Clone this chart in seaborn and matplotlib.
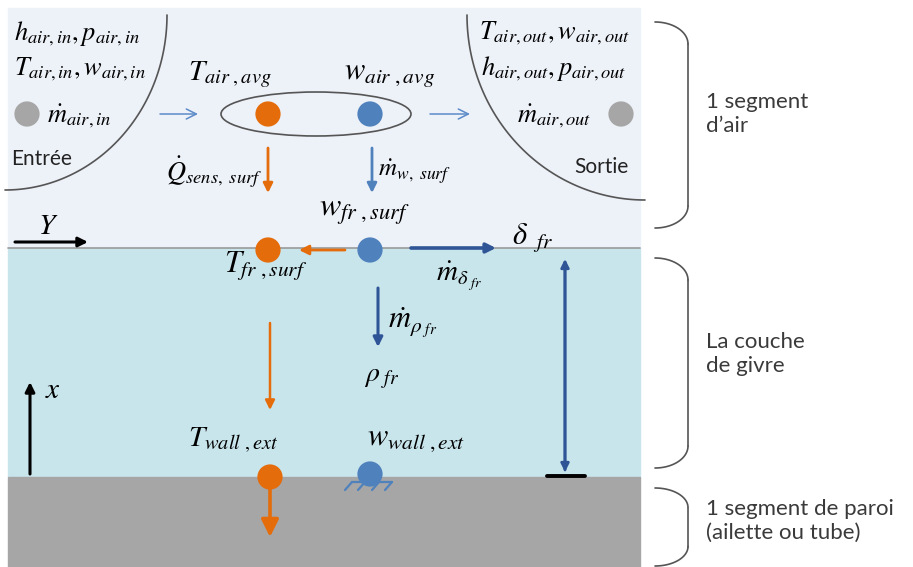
import numpy as np
import pandas as pd
import matplotlib
matplotlib.use("Agg")
import matplotlib.pyplot as plt
from matplotlib.patches import Ellipse
import seaborn as sns

# Schema: one air segment, frost layer and wall segment (pixel coordinates)

sns.set_theme(style="white")
plt.rcParams['font.family'] = ['Lato', 'DejaVu Sans']
plt.rcParams['mathtext.fontset'] = 'stix'

ORANGE = "#E46C0A"
BLUE = "#4F81BD"
DARK_BLUE = "#2F5597"
GREY_DOT = "#A6A6A6"

# node dots
dot_names = ["m_in", "T_avg", "w_avg", "m_out", "T_surf", "w_surf", "T_wall", "w_wall"]
dot_x = [27, 268, 370, 621, 268, 370, 270, 370]
dot_y = [114, 114, 114, 114, 250, 250, 477, 474]
dot_kind = ["grey", "orange", "blue", "grey", "orange", "blue", "orange", "blue"]

# math labels
label_text = [r"$h_{air,in}, p_{air,in}$", r"$T_{air,in}, w_{air,in}$", r"$\dot{m}_{air,in}$",
              r"$T_{air,out}, w_{air,out}$", r"$h_{air,out}, p_{air,out}$", r"$\dot{m}_{air,out}$",
              r"$T_{air\ ,avg}$", r"$w_{air\ ,avg}$",
              r"$\dot{Q}_{sens,\ surf}$", r"$\dot{m}_{w,\ surf}$",
              r"$w_{fr\ ,surf}$", r"$T_{fr\ ,surf}$", r"$\delta_{\ \ fr}$",
              r"$\dot{m}_{\delta_{\ fr}}$", r"$\dot{m}_{\rho_{\ fr}}$", r"$\rho_{\ fr}$",
              r"$T_{wall\ ,ext}$", r"$w_{wall\ ,ext}$", r"$Y$", r"$x$"]
label_x = [14, 14, 47, 479, 481, 517, 188, 344, 166, 378, 319, 224, 512, 436, 388, 364, 188, 367, 38, 45]
label_y = [34, 69, 116, 33, 69, 116, 75, 75, 172, 172, 212, 266, 238, 276, 323, 378, 440, 440, 226, 390]
label_size = [19, 19, 19, 19, 19, 19, 21, 22, 19, 18, 23, 22, 22, 21, 22, 20, 21, 22, 21, 21]

# right-hand captions
brace_top = [22, 258, 488]
brace_bottom = [228, 468, 566]
caption_text = ["1 segment\nd\u2019air", "La couche\nde givre", "1 segment de paroi\n(ailette ou tube)"]
caption_y = [114, 354, 521]

fig = plt.figure(figsize=(9.13, 5.67), dpi=100)
ax = fig.add_axes([0, 0, 1, 1])
ax.set_xlim(0, 913)
ax.set_ylim(567, 0)
ax.axis("off")

# three layers
ax.add_patch(plt.Rectangle((8, 8), 632, 240, color="#EDF1F8", zorder=0))
ax.add_patch(plt.Rectangle((8, 248), 632, 229, color="#C9E5EC", zorder=0))
ax.add_patch(plt.Rectangle((8, 477), 632, 90, color="#A6A6A6", zorder=0))
ax.plot([8, 640], [248, 248], color="#9A9A9A", lw=1.2, zorder=1)

# inlet / outlet arcs
t = np.linspace(0, np.pi / 2, 100)
ax.plot(5 + 162 * np.cos(t), 30 + 160 * np.sin(t) - 15 * (1 - np.sin(t)), color="#555555", lw=1.2)
ax.plot(645 - 178 * np.cos(t), 30 + 170 * np.sin(t) - 15 * (1 - np.sin(t)), color="#555555", lw=1.2)

# averaging ellipse
ax.add_patch(Ellipse((316, 114), 190, 44, fill=False, ec="#555555", lw=1.2))

# dots
dots = pd.DataFrame({"name": dot_names, "x": dot_x, "y": dot_y, "kind": dot_kind})
sns.scatterplot(data=dots, x="x", y="y", hue="kind", s=330, edgecolor="none",
                palette={"grey": GREY_DOT, "orange": ORANGE, "blue": BLUE},
                legend=False, ax=ax, zorder=5)


def arrow(x0, y0, x1, y1, color, lw=1.8, style="-|>", ms=14):
    ax.annotate("", xy=(x1, y1), xytext=(x0, y0),
                arrowprops=dict(arrowstyle=style, color=color, lw=lw, mutation_scale=ms,
                                shrinkA=0, shrinkB=0), zorder=4)


arrow(160, 114, 198, 114, "#5B8BC9", lw=1.1, style="->", ms=18)
arrow(430, 114, 470, 114, "#5B8BC9", lw=1.1, style="->", ms=18)
arrow(268, 148, 268, 193, ORANGE, lw=2)
arrow(372, 148, 372, 193, BLUE, lw=2)
arrow(345, 250, 299, 250, ORANGE, lw=2)
arrow(411, 248, 496, 248, DARK_BLUE, lw=2.6)
arrow(378, 288, 378, 347, DARK_BLUE, lw=2.2)
arrow(270, 323, 270, 410, ORANGE, lw=1.8)
arrow(270, 477, 270, 537, ORANGE, lw=2.6, ms=26)
arrow(15, 242, 88, 242, "black", lw=2.2)
arrow(30, 474, 30, 382, "black", lw=2.2)
arrow(565, 470, 565, 259, DARK_BLUE, lw=2, ms=12)
arrow(565, 262, 565, 472, DARK_BLUE, lw=2, ms=12)
ax.plot([547, 585], [476, 476], color="black", lw=2.8)

# legs under the wall vapour node
ax.plot([352, 392], [482, 482], color=BLUE, lw=1.6, zorder=4)
for lx in [352, 365, 379, 392]:
    ax.plot([lx, lx - 7], [482, 490], color=BLUE, lw=1.6, zorder=4)

# math labels
for s, lx, ly, fs in zip(label_text, label_x, label_y, label_size):
    ax.text(lx, ly, s, fontsize=fs, ha="left", va="center", color="black", zorder=6)

ax.text(11, 159, "Entrée", fontsize=15, ha="left", va="center", color="#222222")
ax.text(574, 167, "Sortie", fontsize=15, ha="left", va="center", color="#222222")

# braces and captions
th = np.linspace(0, np.pi / 2, 40)
for top, bot, cap, cy in zip(brace_top, brace_bottom, caption_text, caption_y):
    r = min(22, (bot - top) / 4)
    ax.plot(655 + 33 * np.sin(th), top + r * (1 - np.cos(th)), color="#555555", lw=1.2)
    ax.plot([688, 688], [top + r, bot - r], color="#555555", lw=1.2)
    ax.plot(655 + 33 * np.sin(th), bot - r * (1 - np.cos(th)), color="#555555", lw=1.2)
    ax.text(706, cy, cap, fontsize=16, ha="left", va="center", color="#3A3A3A", linespacing=1.25)

fig.savefig("out.png", dpi=100)
